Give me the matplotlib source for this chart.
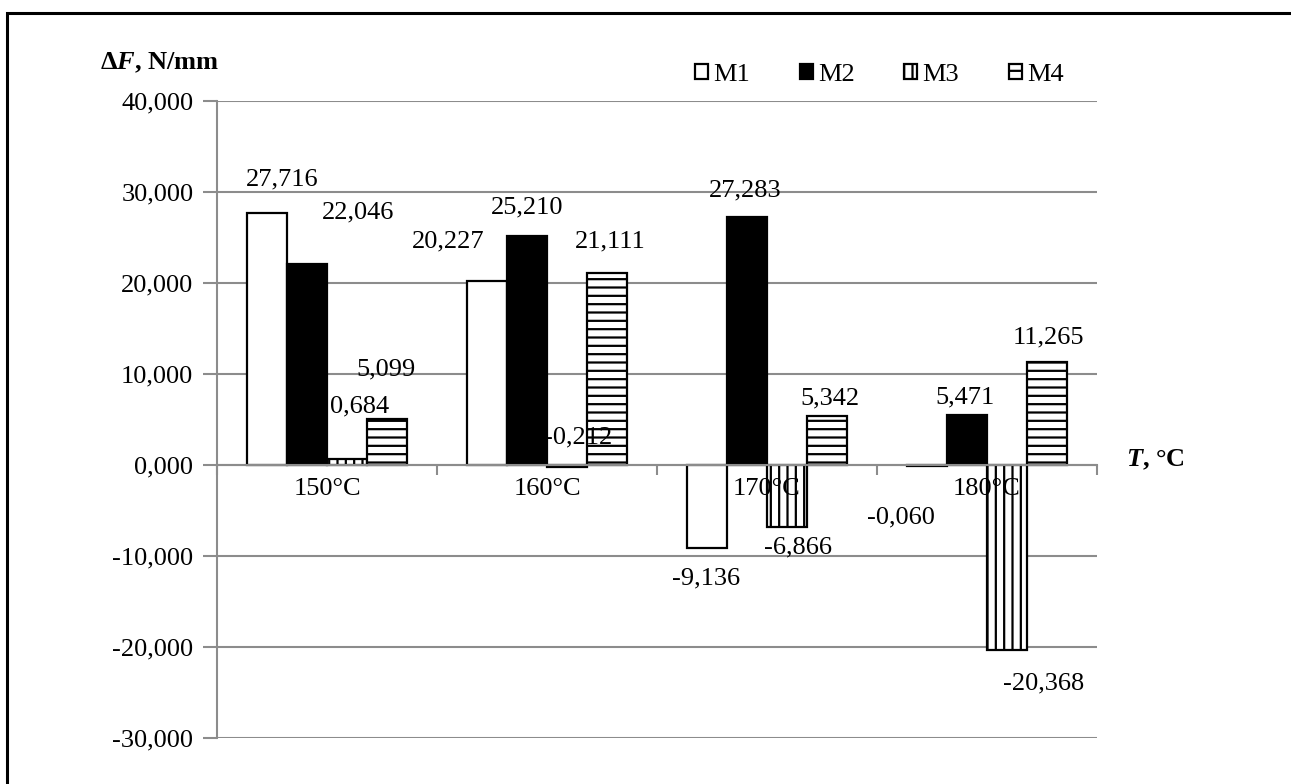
import matplotlib
matplotlib.use("Agg")
import matplotlib.pyplot as plt
from matplotlib.patches import Rectangle
from matplotlib.ticker import FixedLocator, FuncFormatter
import numpy as np

# ---- data -------------------------------------------------------------
categories = ["150°C", "160°C", "170°C", "180°C"]
series_names = ["M1", "M2", "M3", "M4"]
m1 = [27.716, 20.227, -9.136, -0.060]
m2 = [22.046, 25.210, 27.283, 5.471]
m3 = [0.684, -0.212, -6.866, -20.368]
m4 = [5.099, 21.111, 5.342, 11.265]
y_ticks = [-30, -20, -10, 0, 10, 20, 30, 40]

# ---- styling ----------------------------------------------------------
W, H, DPI = 1291, 784, 100
FONT = "Liberation Serif"
FS = 19
GRID = "#8c8c8c"

plt.rcParams["font.family"] = [FONT, "DejaVu Serif"]
plt.rcParams["hatch.linewidth"] = 1.6
plt.rcParams["hatch.color"] = "black"
plt.rcParams["mathtext.fontset"] = "custom"
plt.rcParams["mathtext.rm"] = FONT
plt.rcParams["mathtext.bf"] = FONT + ":bold"
plt.rcParams["mathtext.it"] = FONT + ":italic"
plt.rcParams["mathtext.bfit"] = FONT + ":bold:italic"

styles = [
    dict(facecolor="white", edgecolor="black", hatch=None),
    dict(facecolor="black", edgecolor="black", hatch=None),
    dict(facecolor="white", edgecolor="black", hatch="||"),
    dict(facecolor="white", edgecolor="black", hatch="--"),
]

# label offsets (pixels, y up) from the bar end to the label centre
label_offsets = [
    [(15, 33), (-39, 39), (-1, -30), (-26, -52)],
    [(51, 52), (0, 28), (-2, 26), (-2, 18)],
    [(13, 52), (11, 29), (11, -20), (37, -33)],
    [(-1, 49), (3, 31), (3, 18), (1, 25)],
]

fig = plt.figure(figsize=(W / DPI, H / DPI), dpi=DPI)
ax = fig.add_axes([217 / W, 1 - 738 / H, (1097 - 217) / W, (738 - 101) / H])
ax.set_axisbelow(False)

x = np.arange(len(categories))
bar_w = 40 / 220

# horizontal gridlines below the bars
ax.hlines(y_ticks, -0.5, len(categories) - 0.5, color=GRID, linewidth=1.5, zorder=0.5)

series = [m1, m2, m3, m4]
for i, (vals, st) in enumerate(zip(series, styles)):
    pos = x + (i - 1.5) * bar_w
    ax.bar(pos, vals, width=bar_w, linewidth=1.6, zorder=2, label=series_names[i], **st)
    for j, v in enumerate(vals):
        dx, dy = label_offsets[i][j]
        ax.annotate(f"{v:.3f}".replace(".", ","), xy=(pos[j], v),
                    xytext=(dx, dy), textcoords="offset pixels",
                    ha="center", va="center", fontsize=FS, zorder=5)

ax.set_xlim(-0.5, len(categories) - 0.5)
ax.set_ylim(y_ticks[0], y_ticks[-1])
ax.yaxis.set_major_locator(FixedLocator(y_ticks))
ax.yaxis.set_major_formatter(FuncFormatter(lambda v, p: f"{v:.3f}".replace(".", ",")))

for s in ("top", "right"):
    ax.spines[s].set_visible(False)
ax.spines["left"].set_color(GRID)
ax.spines["left"].set_linewidth(1.5)
ax.spines["bottom"].set_position(("data", 0))
ax.spines["bottom"].set_color(GRID)
ax.spines["bottom"].set_linewidth(1.5)
ax.spines["bottom"].set_zorder(4)

ax.set_xticks(x)
ax.set_xticklabels(categories)
ax.set_xticks(np.arange(-0.5, len(categories)), minor=True)
ax.tick_params(axis="x", which="major", length=0, pad=9.5, labelsize=FS)
ax.tick_params(axis="x", which="minor", length=7, width=1.5, color=GRID, direction="out")
ax.tick_params(axis="y", length=10, width=1.5, color=GRID, pad=7, labelsize=FS)

# axis titles
fig.text(160 / W, 1 - 63 / H, r"$\mathbf{\Delta}\mathbfit{F}$, N/mm",
         ha="center", va="center", fontsize=FS, fontweight="bold")
fig.text(1155 / W, 1 - 460 / H, r"$\mathbfit{T}$, °C",
         ha="center", va="center", fontsize=FS, fontweight="bold")

ax.legend(loc="center left", bbox_to_anchor=(695 / W, 1 - 75 / H),
          bbox_transform=fig.transFigure, ncol=4, frameon=False, fontsize=FS,
          handlelength=0.5, handleheight=0.5, handletextpad=0.2,
          columnspacing=1.87, borderpad=0, borderaxespad=0)

# outer frame
fig.patches.append(Rectangle((7 / W, -0.5), 2.0, 0.5 + (1 - 13 / H),
                             transform=fig.transFigure, fill=False,
                             edgecolor="black", linewidth=2.2))

fig.savefig("out.png", dpi=DPI)
